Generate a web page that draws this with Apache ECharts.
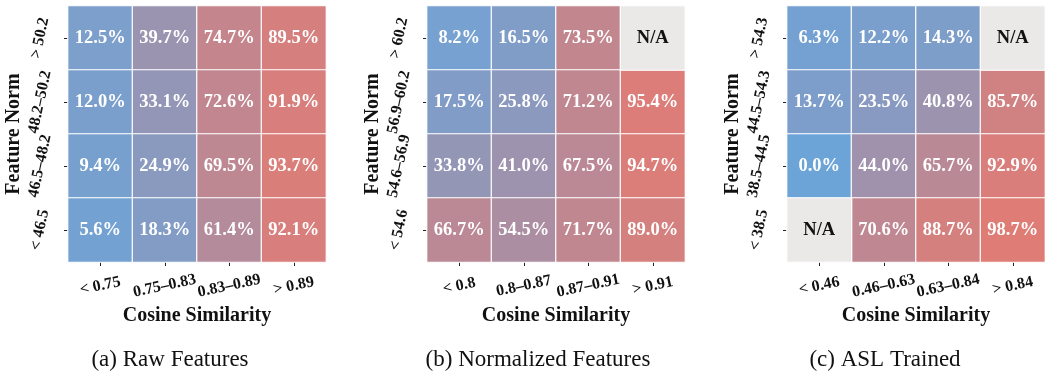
<!DOCTYPE html>
<html>
<head>
<meta charset="utf-8">
<script src="https://cdn.jsdelivr.net/npm/echarts@6/dist/echarts.min.js"></script>
<style>
html,body{margin:0;padding:0;background:#fff;}
#chart{width:1045px;height:373px;}
</style>
</head>
<body>
<div id="chart"></div>
<script>
// ---- Data (rows listed top to bottom, columns left to right; null = N/A) ----
const xCatsA = ['< 0.75', '0.75–0.83', '0.83–0.89', '> 0.89'];
const yCatsA = ['> 50.2', '48.2–50.2', '46.5–48.2', '< 46.5'];
const valsA = [
  [12.5, 39.7, 74.7, 89.5],
  [12.0, 33.1, 72.6, 91.9],
  [9.4, 24.9, 69.5, 93.7],
  [5.6, 18.3, 61.4, 92.1]
];
const xCatsB = ['< 0.8', '0.8–0.87', '0.87–0.91', '> 0.91'];
const yCatsB = ['> 60.2', '56.9–60.2', '54.6–56.9', '< 54.6'];
const valsB = [
  [8.2, 16.5, 73.5, null],
  [17.5, 25.8, 71.2, 95.4],
  [33.8, 41.0, 67.5, 94.7],
  [66.7, 54.5, 71.7, 89.0]
];
const xCatsC = ['< 0.46', '0.46–0.63', '0.63–0.84', '> 0.84'];
const yCatsC = ['> 54.3', '44.5–54.3', '38.5–44.5', '< 38.5'];
const valsC = [
  [6.3, 12.2, 14.3, null],
  [13.7, 23.5, 40.8, 85.7],
  [0.0, 44.0, 65.7, 92.9],
  [null, 70.6, 88.7, 98.7]
];
const subtitles = ['(a) Raw Features', '(b) Normalized Features', '(c) ASL Trained'];
const xAxisTitle = 'Cosine Similarity';
const yAxisTitle = 'Feature Norm';

// ---- Build ----
const FONT = '"Liberation Serif", "DejaVu Serif", serif';
const panels = [
  {x: xCatsA, y: yCatsA, v: valsA, left: 68, sub: 170},
  {x: xCatsB, y: yCatsB, v: valsB, left: 427, sub: 538},
  {x: xCatsC, y: yCatsC, v: valsC, left: 787, sub: 885}
];
const grids = [], xAxes = [], yAxes = [], series = [], titles = [];
const valueSeriesIdx = [];
panels.forEach((p, i) => {
  grids.push({left: p.left, top: 6, width: 258, height: 256});
  xAxes.push({
    type: 'category', gridIndex: i, data: p.x,
    axisLine: {show: false},
    axisTick: {show: true, length: 4, alignWithLabel: true, lineStyle: {color: '#222'}},
    axisLabel: {interval: 0, rotate: 12, align: 'center', verticalAlign: 'middle', margin: 24,
      fontFamily: FONT, fontWeight: 'bold', fontSize: 16, color: '#111'},
    splitLine: {show: false},
    name: xAxisTitle, nameLocation: 'middle', nameGap: 40,
    nameTextStyle: {fontFamily: FONT, fontWeight: 'bold', fontSize: 20, color: '#111'}
  });
  const yRev = p.y.slice().reverse();
  yAxes.push({
    type: 'category', gridIndex: i, data: yRev,
    axisLine: {show: false},
    axisTick: {show: true, length: 4, alignWithLabel: true, lineStyle: {color: '#222'}},
    axisLabel: {interval: 0, rotate: 78, align: 'center', verticalAlign: 'middle', margin: 28,
      fontFamily: FONT, fontWeight: 'bold', fontSize: 16, color: '#111'},
    splitLine: {show: false},
    name: yAxisTitle, nameLocation: 'middle', nameGap: 42,
    nameTextStyle: {fontFamily: FONT, fontWeight: 'bold', fontSize: 20, color: '#111'}
  });
  const vals = [], nas = [];
  p.v.forEach((row, r) => {
    row.forEach((val, c) => {
      const yLabel = p.y[r];
      if (val === null) nas.push([p.x[c], yLabel, 0]);
      else vals.push([p.x[c], yLabel, val]);
    });
  });
  valueSeriesIdx.push(series.length);
  series.push({
    type: 'heatmap', xAxisIndex: i, yAxisIndex: i, data: vals,
    itemStyle: {borderColor: '#ffffff', borderWidth: 1.2},
    label: {show: true, formatter: q => q.value[2].toFixed(1) + '%',
      fontFamily: FONT, fontWeight: 'bold', fontSize: 18.5, color: '#ffffff'},
    emphasis: {disabled: true}
  });
  series.push({
    type: 'heatmap', xAxisIndex: i, yAxisIndex: i, data: nas,
    itemStyle: {color: '#ebe8e8', borderColor: '#ffffff', borderWidth: 1.2},
    label: {show: true, formatter: 'N/A',
      fontFamily: FONT, fontWeight: 'bold', fontSize: 18.5, color: '#111'},
    emphasis: {disabled: true}
  });
  titles.push({
    text: subtitles[i], left: p.sub, top: 360, padding: 0,
    textAlign: 'center', textVerticalAlign: 'middle',
    textStyle: {fontFamily: FONT, fontSize: 23, fontWeight: 'normal', color: '#111'}
  });
});

const chart = echarts.init(document.getElementById('chart'), null, {renderer: 'canvas'});
chart.setOption({
  animation: false,
  backgroundColor: '#ffffff',
  title: titles,
  grid: grids,
  xAxis: xAxes,
  yAxis: yAxes,
  visualMap: {
    show: false, type: 'continuous', min: 0, max: 100, dimension: 2,
    seriesIndex: valueSeriesIdx,
    inRange: {color: ['#6da4d8', '#e17b74']}
  },
  series: series
});
</script>
</body>
</html>
